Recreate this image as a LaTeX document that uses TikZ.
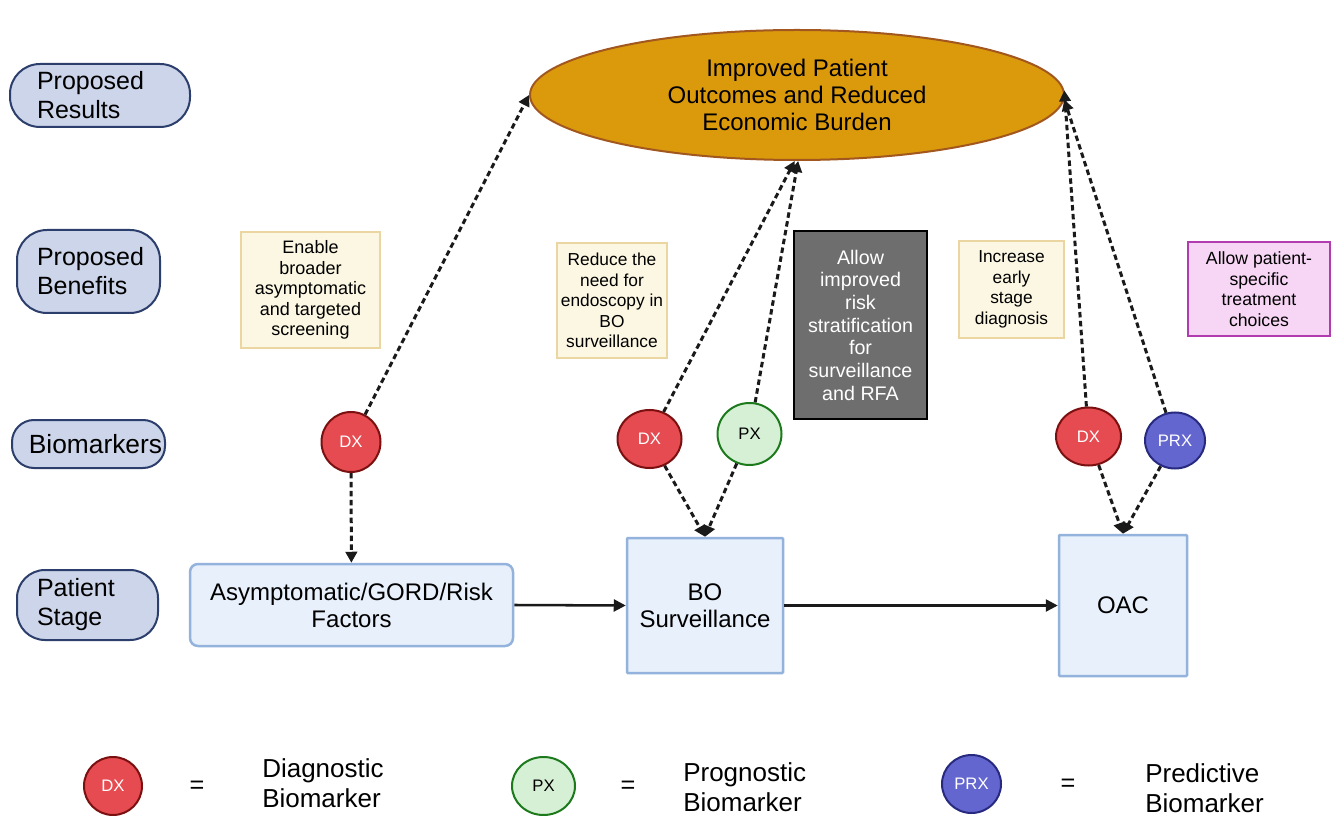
\documentclass[tikz,border=0pt]{standalone}
\usepackage{fontspec}
\setmainfont{Liberation Sans}
\usetikzlibrary{arrows.meta,shapes.geometric,calc}
\newdimen\pu \pu=0.75pt
\definecolor{pillfill}{HTML}{CDD5EA}
\definecolor{pilledge}{HTML}{2C3E6B}
\definecolor{ellfill}{HTML}{DB9A0B}
\definecolor{elledge}{HTML}{A2571E}
\definecolor{benfill}{HTML}{FBF7E2}
\definecolor{benedge}{HTML}{EBD6A2}
\definecolor{darkfill}{HTML}{6E6E6E}
\definecolor{purfill}{HTML}{F7D6F5}
\definecolor{puredge}{HTML}{B03CB0}
\definecolor{stfill}{HTML}{E8F0FB}
\definecolor{stedge}{HTML}{93B3DD}
\definecolor{dxfill}{HTML}{E54B50}
\definecolor{dxedge}{HTML}{7B1010}
\definecolor{pxfill}{HTML}{D5F0D4}
\definecolor{pxedge}{HTML}{1C7A1C}
\definecolor{prxfill}{HTML}{6466CF}
\definecolor{prxedge}{HTML}{272A7E}
\definecolor{arr}{HTML}{1A1A1A}
\begin{document}
\begin{tikzpicture}[x=0.75pt,y=-0.75pt,
  pill/.style={draw=pilledge, fill=pillfill, line width=2\pu, inner ysep=0pt,
    font=\fontsize{18.75}{21.75}\selectfont, align=left},
  benefit/.style={draw=benedge, fill=benfill, line width=2.5\pu, inner sep=0pt,
    align=center, font=\fontsize{13.5}{15.4}\selectfont},
  darkbox/.style={draw=black, fill=darkfill, line width=2.5\pu, inner sep=0pt,
    align=center, text=white, font=\fontsize{14.75}{17}\selectfont},
  purbox/.style={draw=puredge, fill=purfill, line width=2.5\pu, inner sep=0pt,
    align=center, font=\fontsize{13.25}{15.4}\selectfont},
  stage/.style={draw=stedge, fill=stfill, line width=2.5\pu, inner sep=0pt,
    align=center, font=\fontsize{18}{20.25}\selectfont},
  bm/.style={ellipse, line width=2\pu, inner sep=0pt, minimum width=64\pu,
    minimum height=58\pu, font=\fontsize{12.5}{14}\selectfont},
  dx/.style={bm, draw=dxedge, fill=dxfill, text=white},
  px/.style={bm, draw=pxedge, fill=pxfill, text=black},
  prx/.style={bm, draw=prxedge, fill=prxfill, text=white},
  dasharrow/.style={draw=arr, line width=2.25pt, dash pattern=on 4.1pt off 2.6pt,
    -{Triangle[length=8.25pt, width=8.6pt]}},
  solidarrow/.style={draw=arr, line width=1.9pt, -{Triangle[length=9pt, width=9pt]}},
  legtext/.style={anchor=west, align=left, inner sep=0pt, font=\fontsize{19.5}{22.5}\selectfont},
  eqsign/.style={inner sep=0pt, font=\fontsize{19}{20}\selectfont}
]
\useasboundingbox (0,0) rectangle (1331,816);

% left labels
\node[pill, rounded corners=30\pu, minimum height=63\pu, text width=126\pu, inner xsep=27\pu] (lres) at (100,95.5) {Proposed\\Results};
\node[pill, rounded corners=30\pu, minimum height=83\pu, text width=103\pu, inner xsep=20\pu] (lben) at (88.5,271.5) {Proposed\\Benefits};
\node[pill, rounded corners=22\pu, minimum height=48\pu, minimum width=153\pu, inner xsep=0pt, align=center,
  font=\fontsize{19.75}{22}\selectfont] (lbio) at (88.5,444) {\hspace*{14\pu}Biomarkers};
\node[pill, rounded corners=28\pu, minimum height=70\pu, text width=101\pu, inner xsep=20\pu] (lsta) at (87.5,605) {Patient\\Stage};

% result ellipse
\node[ellipse, draw=elledge, fill=ellfill, line width=2\pu, inner sep=0pt,
  minimum width=534\pu, minimum height=130\pu, align=center,
  font=\fontsize{18}{20.25}\selectfont] (ell) at (797,95)
  {Improved Patient\\Outcomes and Reduced\\Economic Burden};

% benefits
\node[benefit, minimum width=139\pu, minimum height=116\pu] (b1) at (310.5,290)
  {Enable\\broader\\asymptomatic\\and targeted\\screening};
\node[benefit, minimum width=110\pu, minimum height=115\pu, font=\fontsize{13}{15.4}\selectfont] (b2) at (612,300.5)
  {Reduce the\\need for\\endoscopy in\\BO\\surveillance};
\node[darkbox, minimum width=133\pu, minimum height=188\pu] (b3) at (860.5,325)
  {Allow\\improved\\risk\\stratification\\for\\surveillance\\and RFA};
\node[benefit, minimum width=105\pu, minimum height=97\pu, font=\fontsize{13}{15.4}\selectfont] (b4) at (1011.5,289.5)
  {Increase\\early\\stage\\diagnosis};
\node[purbox, minimum width=142\pu, minimum height=94\pu] (b5) at (1259,289)
  {Allow patient-\\specific\\treatment\\choices};

% biomarkers
\node[dx, minimum width=59\pu, minimum height=60\pu] (dx1) at (351,442) {DX};
\node[dx] (dx2) at (649.5,439) {DX};
\node[px, minimum height=62\pu] (px) at (749.5,434) {PX};
\node[dx, minimum width=65\pu] (dx3) at (1088.5,436.5) {DX};
\node[prx, minimum width=60\pu, minimum height=56\pu] (prx) at (1175,440.5) {PRX};

% patient stages
\node[stage, rounded corners=8\pu, minimum width=323\pu, minimum height=82\pu] (s1) at (351.5,605)
  {Asymptomatic/GORD/Risk\\Factors};
\node[stage, rounded corners=1\pu, minimum width=156\pu, minimum height=135\pu] (s2) at (705,605.5)
  {BO\\Surveillance};
\node[stage, rounded corners=1\pu, minimum width=128\pu, minimum height=141\pu] (s3) at (1123,605.5)
  {OAC};

% solid arrows
\draw[solidarrow] (s1.east) -- (s2.west);
\draw[solidarrow] (s2.east) -- (s3.west);

% dashed arrows
\draw[dasharrow] (dx1) -- (s1);
\draw[dasharrow] (dx1) -- (ell.west);
\draw[dasharrow] (dx2) -- (ell.-92);
\draw[dasharrow] (px) -- (ell.-89);
\draw[dasharrow] (dx2) -- (s2.north);
\draw[dasharrow] (px) -- (s2.north);
\draw[dasharrow] (dx3) -- (ell.1);
\draw[dasharrow] (prx) -- (ell.-1);
\draw[dasharrow] (dx3) -- (s3.north);
\draw[dasharrow] (prx) -- (s3.north);

% legend
\node[dx, minimum width=58\pu, minimum height=58\pu] (ldx) at (113,786) {DX};
\node[eqsign] (eq1) at (197,787) {=};
\node[legtext] (tdx) at (262,783) {Diagnostic\\Biomarker};
\node[px, minimum width=63\pu, minimum height=58\pu] (lpx) at (543.5,786) {PX};
\node[eqsign] (eq2) at (628,787) {=};
\node[legtext] (tpx) at (683,787) {Prognostic\\Biomarker};
\node[prx, minimum width=59\pu, minimum height=58\pu] (lprx) at (971.5,784) {PRX};
\node[eqsign] (eq3) at (1068,785) {=};
\node[legtext] (tprx) at (1145,788) {Predictive\\Biomarker};
\end{tikzpicture}
\end{document}
